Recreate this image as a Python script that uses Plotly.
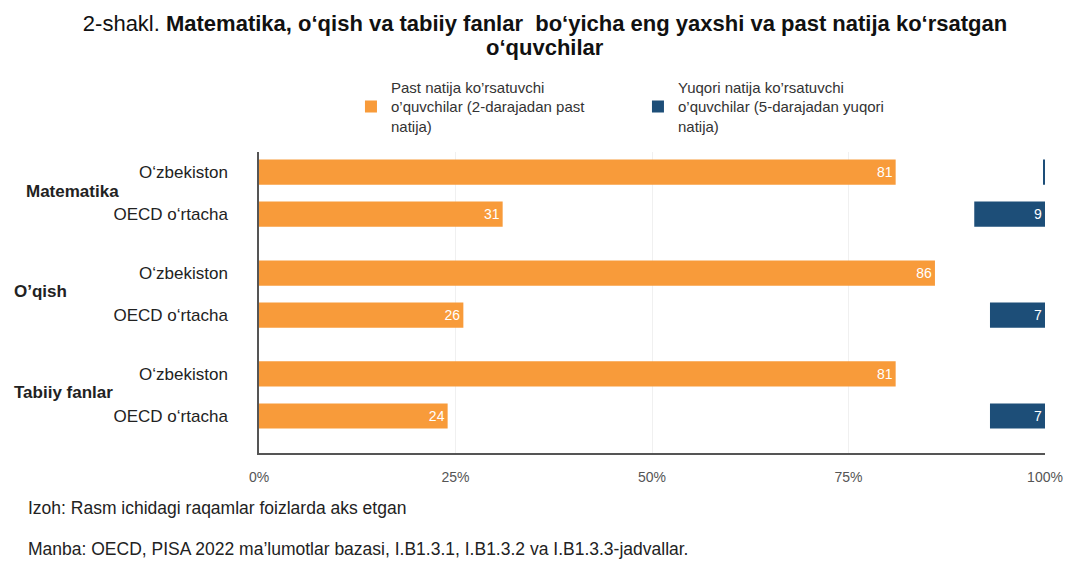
import plotly.graph_objects as go

# ---- data ----
subjects = ["Matematika", "O’qish", "Tabiiy fanlar"]
rows = ["O‘zbekiston", "OECD o‘rtacha"]
low_performers = [[81, 31], [86, 26], [81, 24]]     # below level 2, %
top_performers = [[0.2, 9], [0, 7], [0, 7]]         # level 5 and above, %
x_ticks = [0, 25, 50, 75, 100]
legend_low = "Past natija ko’rsatuvchi<br>o’quvchilar (2-darajadan past<br>natija)"
legend_top = "Yuqori natija ko’rsatuvchi<br>o’quvchilar (5-darajadan yuqori<br>natija)"

ORANGE = "#F89B3A"
BLUE = "#1D4E78"
FONT = "Liberation Sans, Arial, sans-serif"

# layout positions of rows (group spacing)
group_step = 2.4
ypos, ylab, low_vals, top_vals = [], [], [], []
for g, subj in enumerate(subjects):
    for i, r in enumerate(rows):
        ypos.append(g * group_step + i)
        ylab.append(r)
        low_vals.append(low_performers[g][i])
        top_vals.append(top_performers[g][i])

low_text = [str(v) if v >= 1 else "" for v in low_vals]
top_text = [str(v) if v >= 1 else "" for v in top_vals]

fig = go.Figure()
fig.add_trace(go.Bar(
    y=ypos, x=low_vals, orientation="h", name=legend_low,
    marker=dict(color=ORANGE, line=dict(width=0)), width=0.6,
    text=low_text, textposition="inside", insidetextanchor="end",
    textfont=dict(color="white", size=14, family=FONT),
))
fig.add_trace(go.Bar(
    y=ypos, x=top_vals, base=[100 - v for v in top_vals], orientation="h",
    name=legend_top,
    marker=dict(color=BLUE, line=dict(width=0)), width=0.6,
    text=top_text, textposition="inside", insidetextanchor="end",
    textfont=dict(color="white", size=14, family=FONT),
))

annotations = []
grp_x = [-0.299, -0.314, -0.314]
for g, subj in enumerate(subjects):
    annotations.append(dict(
        xref="paper", yref="y", x=grp_x[g], y=g * group_step + 0.45,
        text="<b>" + subj + "</b>", showarrow=False, xanchor="left", yanchor="middle",
        font=dict(size=17, color="#222", family=FONT),
    ))
annotations.append(dict(
    xref="paper", yref="paper", x=(545 - 259) / 786, y=(453 - 48) / 301,
    text="<b>o‘quvchilar</b>", showarrow=False, xanchor="center", yanchor="middle",
    font=dict(size=22, color="#111", family=FONT),
))
annotations.append(dict(
    xref="paper", yref="paper", x=-0.297, y=-0.183,
    text="Izoh: Rasm ichidagi raqamlar foizlarda aks etgan",
    showarrow=False, xanchor="left", yanchor="middle",
    font=dict(size=17.5, color="#222", family=FONT),
))
annotations.append(dict(
    xref="paper", yref="paper", x=-0.297, y=-0.319,
    text="Manba: OECD, PISA 2022 ma’lumotlar bazasi, I.B1.3.1, I.B1.3.2 va I.B1.3.3-jadvallar.",
    showarrow=False, xanchor="left", yanchor="middle",
    font=dict(size=17.5, color="#222", family=FONT),
))

fig.update_layout(
    width=1065, height=561,
    margin=dict(l=259, r=20, t=152, b=108, autoexpand=False),
    paper_bgcolor="white", plot_bgcolor="white",
    font=dict(family=FONT, color="#222"),
    barmode="overlay",
    showlegend=True,
    title=dict(
        text="2-shakl. <b>Matematika, o‘qish va tabiiy fanlar  bo‘yicha eng yaxshi va past natija ko‘rsatgan</b>",
        x=545 / 1065, xref="container", xanchor="center",
        y=1 - 23 / 561, yref="container", yanchor="middle",
        font=dict(size=22, color="#111", family=FONT),
    ),
    legend=dict(
        orientation="h", x=0.117, y=1.27, xanchor="left", yanchor="top",
        xref="paper", yref="paper",
        entrywidth=242, entrywidthmode="pixels",
        font=dict(size=15, color="#333", family=FONT),
        traceorder="normal", itemclick=False,
    ),
    xaxis=dict(
        range=[0, 100], tickvals=x_ticks, ticktext=[f"{v}%" for v in x_ticks],
        showgrid=True, gridcolor="#f0f0f0", gridwidth=1,
        showline=True, linecolor="#555", linewidth=1.5,
        zeroline=False, ticks="", ticklabelstandoff=10, automargin=False,
        tickfont=dict(size=14, color="#555", family=FONT),
    ),
    yaxis=dict(
        range=[6.68, -0.48], tickvals=ypos, ticktext=ylab,
        showgrid=False, zeroline=False,
        showline=True, linecolor="#555", linewidth=1.5,
        ticks="", ticklabelstandoff=26, automargin=False,
        tickfont=dict(size=17, color="#222", family=FONT),
    ),
    annotations=annotations,
)

fig.write_html("out.html", config={"displayModeBar": False},
               post_script="document.body.style.margin='0';")
